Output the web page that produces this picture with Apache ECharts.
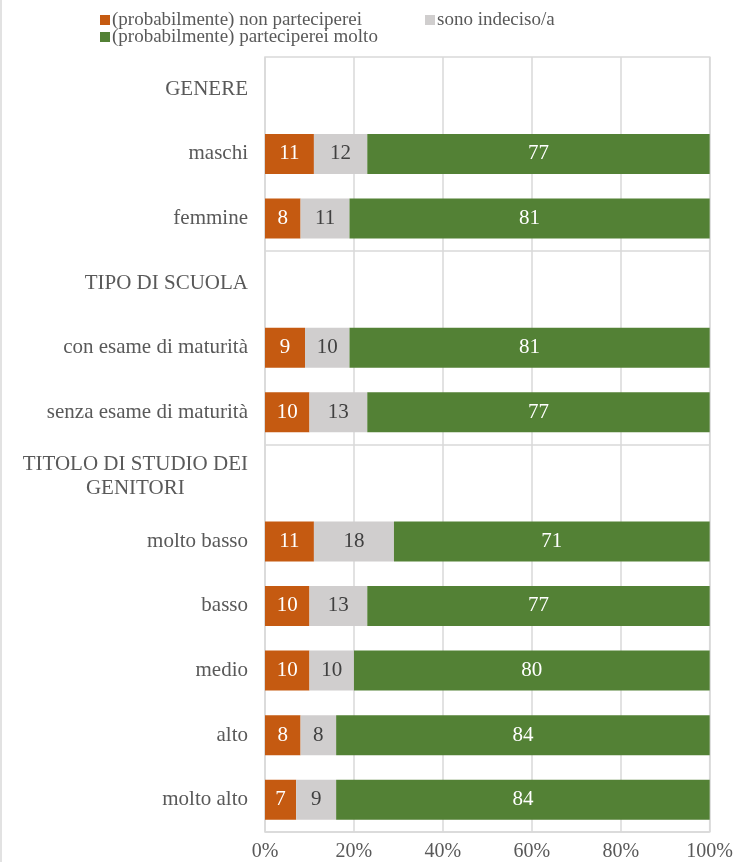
<!DOCTYPE html>
<html>
<head>
<meta charset="utf-8">
<script src="https://cdn.jsdelivr.net/npm/echarts@6/dist/echarts.min.js"></script>
<style>
  html, body { margin: 0; padding: 0; background: #fff; }
  #chart { width: 736px; height: 862px; }
</style>
</head>
<body>
<div id="chart"></div>
<script>
// Row labels, top to bottom (group headings carry no bars)
const categories = [
  'GENERE', 'maschi', 'femmine',
  'TIPO DI SCUOLA', 'con esame di maturità', 'senza esame di maturità',
  'TITOLO DI STUDIO DEI GENITORI', 'molto basso', 'basso', 'medio', 'alto', 'molto alto'
];

const seriesNames = [
  '(probabilmente) non parteciperei',
  'sono indeciso/a',
  '(probabilmente) parteciperei molto'
];

// Percentages per row ('-' for heading rows)
const nonParteciperei = ['-', 11, 8, '-', 9, 10, '-', 11, 10, 10, 8, 7];
const indeciso        = ['-', 12, 11, '-', 10, 13, '-', 18, 13, 10, 8, 9];
const parteciperei    = ['-', 77, 81, '-', 81, 77, '-', 71, 77, 80, 84, 84];

const xTicks = [0, 20, 40, 60, 80, 100];

const FONT = 'Liberation Serif';
const TEXT = '#595959';
const GRID = '#D9D9D9';
const colors = ['#C55A11', '#D0CECE', '#538135'];
const labelColors = ['#FFFFFF', '#404040', '#FFFFFF'];

const chart = echarts.init(document.getElementById('chart'), null, { renderer: 'canvas' });

function makeSeries(name, data, idx) {
  return {
    name: name,
    type: 'bar',
    stack: 'total',
    data: data,
    barWidth: 40,
    itemStyle: { color: colors[idx] },
    label: {
      show: true,
      position: 'inside',
      color: labelColors[idx],
      fontFamily: FONT,
      fontSize: 21
    },
    emphasis: { disabled: true }
  };
}

function legendAt(name, left, top) {
  return {
    data: [name],
    left: left,
    top: top,
    icon: 'rect',
    itemWidth: 10,
    itemHeight: 10,
    padding: 0,
    selectedMode: false,
    textStyle: {
      fontFamily: FONT, fontSize: 19, lineHeight: 20, color: TEXT,
      padding: [0, 0, 0, -3]
    }
  };
}

chart.setOption({
  animation: false,
  backgroundColor: '#fff',
  color: colors,
  legend: [
    legendAt(seriesNames[0], 100, 10),
    legendAt(seriesNames[1], 425, 10),
    legendAt(seriesNames[2], 100, 27)
  ],
  grid: {
    left: 265, right: 26, top: 57, bottom: 30,
    show: true,
    borderColor: GRID,
    borderWidth: 1.5
  },
  xAxis: {
    type: 'value',
    min: xTicks[0],
    max: xTicks[xTicks.length - 1],
    interval: xTicks[1] - xTicks[0],
    axisLine: { show: false },
    axisTick: { show: false },
    splitLine: { show: true, lineStyle: { color: GRID, width: 1.5 } },
    axisLabel: {
      formatter: '{value}%',
      fontFamily: FONT,
      fontSize: 20,
      color: TEXT,
      margin: 10
    }
  },
  yAxis: {
    type: 'category',
    data: categories,
    inverse: true,
    axisLine: { show: false },
    axisTick: { show: false },
    splitLine: {
      show: true,
      interval: function (index) { return index === 3 || index === 6; },
      lineStyle: { color: GRID, width: 1.5 }
    },
    axisLabel: {
      margin: 17,
      fontFamily: FONT,
      fontSize: 21,
      color: TEXT,
      formatter: function (value) {
        if (value === 'TITOLO DI STUDIO DEI GENITORI') {
          return '{c|TITOLO DI STUDIO DEI}\n{c|GENITORI}';
        }
        return value;
      },
      rich: {
        c: { align: 'center', fontFamily: FONT, fontSize: 21, color: TEXT, lineHeight: 24 }
      }
    }
  },
  series: [
    makeSeries(seriesNames[0], nonParteciperei, 0),
    makeSeries(seriesNames[1], indeciso, 1),
    makeSeries(seriesNames[2], parteciperei, 2)
  ],
  graphic: [{
    type: 'line',
    shape: { x1: 1, y1: 0, x2: 1, y2: 862 },
    style: { stroke: GRID, lineWidth: 1.5 },
    silent: true
  }]
});
</script>
</body>
</html>
